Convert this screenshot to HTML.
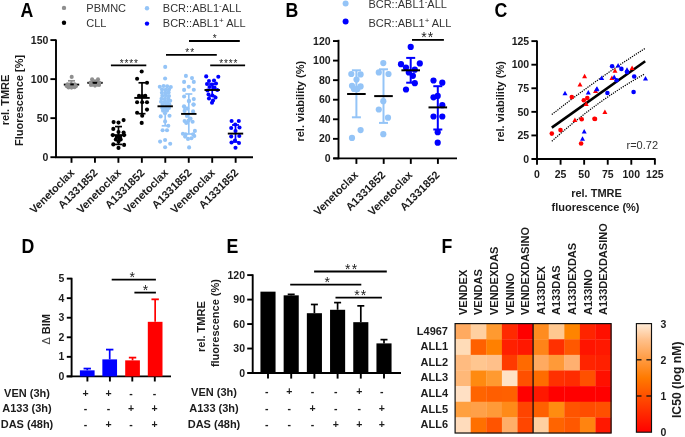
<!DOCTYPE html>
<html><head><meta charset="utf-8"><style>
html,body{margin:0;padding:0;background:#fff;}
svg{display:block;font-family:"Liberation Sans", sans-serif;will-change:transform;}
</style></head><body>
<svg width="685" height="437" viewBox="0 0 685 437">
<rect width="685" height="437" fill="#fff"/>
<text transform="translate(20.5 16.8) scale(0.91 1.02)" font-size="19.5" font-weight="bold">A</text>
<text transform="translate(285.5 16.8) scale(0.91 1.02)" font-size="19.5" font-weight="bold">B</text>
<text transform="translate(494.4 16.7) scale(0.91 1.02)" font-size="19.5" font-weight="bold">C</text>
<text transform="translate(21.6 253.0) scale(0.91 1.02)" font-size="19.5" font-weight="bold">D</text>
<text transform="translate(226.6 253.0) scale(0.91 1.02)" font-size="19.5" font-weight="bold">E</text>
<text transform="translate(441.5 252.5) scale(0.91 1.02)" font-size="19.5" font-weight="bold">F</text>
<line x1="56.00" y1="39.40" x2="56.00" y2="158.05" stroke="#000" stroke-width="1.9"/>
<line x1="55.15" y1="157.20" x2="253.00" y2="157.20" stroke="#000" stroke-width="1.9"/>
<line x1="50.40" y1="157.20" x2="56.00" y2="157.20" stroke="#000" stroke-width="1.9"/>
<text x="48.40" y="160.70" font-size="10.5" font-weight="bold" text-anchor="end" fill="#1c1c1c">0</text>
<line x1="50.40" y1="118.16" x2="56.00" y2="118.16" stroke="#000" stroke-width="1.9"/>
<text x="48.40" y="121.66" font-size="10.5" font-weight="bold" text-anchor="end" fill="#1c1c1c">50</text>
<line x1="50.40" y1="79.13" x2="56.00" y2="79.13" stroke="#000" stroke-width="1.9"/>
<text x="48.40" y="82.63" font-size="10.5" font-weight="bold" text-anchor="end" fill="#1c1c1c">100</text>
<line x1="50.40" y1="40.09" x2="56.00" y2="40.09" stroke="#000" stroke-width="1.9"/>
<text x="48.40" y="43.59" font-size="10.5" font-weight="bold" text-anchor="end" fill="#1c1c1c">150</text>
<line x1="71.50" y1="157.20" x2="71.50" y2="162.80" stroke="#000" stroke-width="1.9"/>
<line x1="94.95" y1="157.20" x2="94.95" y2="162.80" stroke="#000" stroke-width="1.9"/>
<line x1="118.40" y1="157.20" x2="118.40" y2="162.80" stroke="#000" stroke-width="1.9"/>
<line x1="141.85" y1="157.20" x2="141.85" y2="162.80" stroke="#000" stroke-width="1.9"/>
<line x1="165.30" y1="157.20" x2="165.30" y2="162.80" stroke="#000" stroke-width="1.9"/>
<line x1="188.75" y1="157.20" x2="188.75" y2="162.80" stroke="#000" stroke-width="1.9"/>
<line x1="212.20" y1="157.20" x2="212.20" y2="162.80" stroke="#000" stroke-width="1.9"/>
<line x1="235.65" y1="157.20" x2="235.65" y2="162.80" stroke="#000" stroke-width="1.9"/>
<text x="75.00" y="173.50" font-size="11" font-weight="bold" text-anchor="end" fill="#1c1c1c" transform="rotate(-45 75.0 173.5)">Venetoclax</text>
<text x="98.45" y="173.50" font-size="11" font-weight="bold" text-anchor="end" fill="#1c1c1c" transform="rotate(-45 98.45 173.5)">A1331852</text>
<text x="121.90" y="173.50" font-size="11" font-weight="bold" text-anchor="end" fill="#1c1c1c" transform="rotate(-45 121.9 173.5)">Venetoclax</text>
<text x="145.35" y="173.50" font-size="11" font-weight="bold" text-anchor="end" fill="#1c1c1c" transform="rotate(-45 145.35 173.5)">A1331852</text>
<text x="168.80" y="173.50" font-size="11" font-weight="bold" text-anchor="end" fill="#1c1c1c" transform="rotate(-45 168.8 173.5)">Venetoclax</text>
<text x="192.25" y="173.50" font-size="11" font-weight="bold" text-anchor="end" fill="#1c1c1c" transform="rotate(-45 192.25 173.5)">A1331852</text>
<text x="215.70" y="173.50" font-size="11" font-weight="bold" text-anchor="end" fill="#1c1c1c" transform="rotate(-45 215.7 173.5)">Venetoclax</text>
<text x="239.15" y="173.50" font-size="11" font-weight="bold" text-anchor="end" fill="#1c1c1c" transform="rotate(-45 239.15 173.5)">A1331852</text>
<text x="9.00" y="100.00" font-size="11" font-weight="bold" text-anchor="middle" fill="#1c1c1c" transform="rotate(-90 9 100)">rel. TMRE</text>
<text x="23.50" y="100.40" font-size="11" font-weight="bold" text-anchor="middle" fill="#1c1c1c" transform="rotate(-90 23.5 100.4)">Fluorescence [%]</text>
<circle cx="64.00" cy="7.90" r="2.2" fill="#8f8f8f"/>
<circle cx="64.00" cy="22.80" r="2.2" fill="#000"/>
<circle cx="147.00" cy="8.20" r="2.2" fill="#94c4f7"/>
<circle cx="147.00" cy="23.60" r="2.2" fill="#0000ff"/>
<text x="86.30" y="11.70" font-size="11" font-weight="normal" text-anchor="start" fill="#333">PBMNC</text>
<text x="86.30" y="27.00" font-size="11" font-weight="normal" text-anchor="start" fill="#333">CLL</text>
<text x="162.80" y="11.60" font-size="11" font-weight="normal" text-anchor="start" fill="#333">BCR::ABL1<tspan font-size="8" dy="-4">-</tspan><tspan dy="4">ALL</tspan></text>
<text x="162.80" y="26.90" font-size="11" font-weight="normal" text-anchor="start" fill="#333">BCR::ABL1<tspan font-size="8" dy="-4">+</tspan><tspan dy="4"> ALL</tspan></text>
<line x1="71.50" y1="80.80" x2="71.50" y2="84.00" stroke="#8f8f8f" stroke-width="1.7"/>
<line x1="68.00" y1="80.80" x2="75.00" y2="80.80" stroke="#8f8f8f" stroke-width="1.7"/>
<line x1="68.00" y1="84.00" x2="75.00" y2="84.00" stroke="#8f8f8f" stroke-width="1.7"/>
<line x1="63.80" y1="84.60" x2="79.20" y2="84.60" stroke="#000" stroke-width="1.9"/>
<circle cx="71.70" cy="76.90" r="2.05" fill="#8f8f8f"/>
<circle cx="67.60" cy="84.20" r="2.05" fill="#8f8f8f"/>
<circle cx="71.00" cy="84.00" r="2.05" fill="#8f8f8f"/>
<circle cx="74.60" cy="84.30" r="2.05" fill="#8f8f8f"/>
<circle cx="66.90" cy="86.30" r="2.05" fill="#8f8f8f"/>
<circle cx="69.90" cy="86.60" r="2.05" fill="#8f8f8f"/>
<circle cx="72.90" cy="86.50" r="2.05" fill="#8f8f8f"/>
<circle cx="75.90" cy="86.20" r="2.05" fill="#8f8f8f"/>
<circle cx="68.60" cy="87.40" r="2.05" fill="#8f8f8f"/>
<circle cx="71.50" cy="87.60" r="2.05" fill="#8f8f8f"/>
<circle cx="74.50" cy="87.30" r="2.05" fill="#8f8f8f"/>
<line x1="70.30" y1="84.40" x2="73.80" y2="84.40" stroke="#000" stroke-width="1.9"/>
<line x1="95.00" y1="81.60" x2="95.00" y2="84.20" stroke="#8f8f8f" stroke-width="1.7"/>
<line x1="91.50" y1="81.60" x2="98.50" y2="81.60" stroke="#8f8f8f" stroke-width="1.7"/>
<line x1="91.50" y1="84.20" x2="98.50" y2="84.20" stroke="#8f8f8f" stroke-width="1.7"/>
<line x1="87.30" y1="82.80" x2="102.70" y2="82.80" stroke="#000" stroke-width="1.9"/>
<circle cx="92.10" cy="79.30" r="2.05" fill="#8f8f8f"/>
<circle cx="98.00" cy="79.30" r="2.05" fill="#8f8f8f"/>
<circle cx="95.00" cy="81.20" r="2.05" fill="#8f8f8f"/>
<circle cx="90.60" cy="82.60" r="2.05" fill="#8f8f8f"/>
<circle cx="99.40" cy="82.60" r="2.05" fill="#8f8f8f"/>
<circle cx="92.60" cy="84.60" r="2.05" fill="#8f8f8f"/>
<circle cx="97.40" cy="84.60" r="2.05" fill="#8f8f8f"/>
<circle cx="95.00" cy="85.60" r="2.05" fill="#8f8f8f"/>
<circle cx="90.90" cy="84.90" r="2.05" fill="#8f8f8f"/>
<circle cx="99.10" cy="84.90" r="2.05" fill="#8f8f8f"/>
<line x1="92.70" y1="82.80" x2="97.00" y2="82.80" stroke="#000" stroke-width="1.9"/>
<circle cx="113.60" cy="122.10" r="2.05" fill="#000"/>
<circle cx="118.50" cy="122.60" r="2.05" fill="#000"/>
<circle cx="123.60" cy="120.10" r="2.05" fill="#000"/>
<circle cx="113.30" cy="128.90" r="2.05" fill="#000"/>
<circle cx="123.60" cy="132.60" r="2.05" fill="#000"/>
<circle cx="124.10" cy="135.10" r="2.05" fill="#000"/>
<circle cx="112.80" cy="135.10" r="2.05" fill="#000"/>
<circle cx="116.70" cy="137.10" r="2.05" fill="#000"/>
<circle cx="120.20" cy="137.10" r="2.05" fill="#000"/>
<circle cx="115.80" cy="139.50" r="2.05" fill="#000"/>
<circle cx="120.70" cy="139.50" r="2.05" fill="#000"/>
<circle cx="113.30" cy="144.40" r="2.05" fill="#000"/>
<circle cx="124.10" cy="144.90" r="2.05" fill="#000"/>
<circle cx="118.50" cy="147.90" r="2.05" fill="#000"/>
<circle cx="118.50" cy="141.50" r="2.05" fill="#000"/>
<circle cx="118.50" cy="132.00" r="2.05" fill="#000"/>
<line x1="118.50" y1="126.60" x2="118.50" y2="144.40" stroke="#000" stroke-width="1.7"/>
<line x1="115.00" y1="126.60" x2="122.00" y2="126.60" stroke="#000" stroke-width="1.7"/>
<line x1="115.00" y1="144.40" x2="122.00" y2="144.40" stroke="#000" stroke-width="1.7"/>
<line x1="110.80" y1="135.10" x2="126.20" y2="135.10" stroke="#000" stroke-width="1.9"/>
<circle cx="141.70" cy="71.50" r="2.05" fill="#000"/>
<circle cx="137.10" cy="78.70" r="2.05" fill="#000"/>
<circle cx="147.00" cy="82.80" r="2.05" fill="#000"/>
<circle cx="139.00" cy="95.90" r="2.05" fill="#000"/>
<circle cx="145.30" cy="95.90" r="2.05" fill="#000"/>
<circle cx="137.10" cy="102.30" r="2.05" fill="#000"/>
<circle cx="142.20" cy="102.30" r="2.05" fill="#000"/>
<circle cx="147.00" cy="102.30" r="2.05" fill="#000"/>
<circle cx="147.00" cy="109.60" r="2.05" fill="#000"/>
<circle cx="137.10" cy="112.80" r="2.05" fill="#000"/>
<circle cx="142.20" cy="115.80" r="2.05" fill="#000"/>
<circle cx="141.70" cy="122.90" r="2.05" fill="#000"/>
<circle cx="142.20" cy="96.00" r="2.05" fill="#000"/>
<line x1="142.00" y1="82.80" x2="142.00" y2="113.70" stroke="#000" stroke-width="1.7"/>
<line x1="138.50" y1="82.80" x2="145.50" y2="82.80" stroke="#000" stroke-width="1.7"/>
<line x1="138.50" y1="113.70" x2="145.50" y2="113.70" stroke="#000" stroke-width="1.7"/>
<line x1="134.30" y1="97.90" x2="149.70" y2="97.90" stroke="#000" stroke-width="1.9"/>
<line x1="165.20" y1="89.50" x2="165.20" y2="125.80" stroke="#94c4f7" stroke-width="1.7"/>
<line x1="161.70" y1="89.50" x2="168.70" y2="89.50" stroke="#94c4f7" stroke-width="1.7"/>
<line x1="161.70" y1="125.80" x2="168.70" y2="125.80" stroke="#94c4f7" stroke-width="1.7"/>
<circle cx="165.20" cy="66.90" r="2.05" fill="#94c4f7"/>
<circle cx="165.10" cy="78.50" r="2.05" fill="#94c4f7"/>
<circle cx="159.80" cy="86.80" r="2.05" fill="#94c4f7"/>
<circle cx="163.60" cy="86.00" r="2.05" fill="#94c4f7"/>
<circle cx="167.20" cy="86.30" r="2.05" fill="#94c4f7"/>
<circle cx="170.80" cy="87.00" r="2.05" fill="#94c4f7"/>
<circle cx="162.00" cy="89.60" r="2.05" fill="#94c4f7"/>
<circle cx="165.80" cy="89.90" r="2.05" fill="#94c4f7"/>
<circle cx="169.00" cy="89.60" r="2.05" fill="#94c4f7"/>
<circle cx="161.90" cy="92.70" r="2.05" fill="#94c4f7"/>
<circle cx="165.30" cy="93.00" r="2.05" fill="#94c4f7"/>
<circle cx="168.60" cy="92.60" r="2.05" fill="#94c4f7"/>
<circle cx="162.30" cy="95.80" r="2.05" fill="#94c4f7"/>
<circle cx="166.00" cy="95.60" r="2.05" fill="#94c4f7"/>
<circle cx="169.00" cy="96.00" r="2.05" fill="#94c4f7"/>
<circle cx="161.50" cy="98.80" r="2.05" fill="#94c4f7"/>
<circle cx="164.80" cy="99.00" r="2.05" fill="#94c4f7"/>
<circle cx="168.20" cy="98.60" r="2.05" fill="#94c4f7"/>
<circle cx="161.00" cy="101.80" r="2.05" fill="#94c4f7"/>
<circle cx="164.30" cy="102.00" r="2.05" fill="#94c4f7"/>
<circle cx="167.80" cy="101.60" r="2.05" fill="#94c4f7"/>
<circle cx="170.20" cy="100.80" r="2.05" fill="#94c4f7"/>
<circle cx="162.50" cy="104.60" r="2.05" fill="#94c4f7"/>
<circle cx="166.50" cy="104.40" r="2.05" fill="#94c4f7"/>
<circle cx="169.30" cy="104.30" r="2.05" fill="#94c4f7"/>
<circle cx="162.30" cy="108.00" r="2.05" fill="#94c4f7"/>
<circle cx="165.80" cy="108.30" r="2.05" fill="#94c4f7"/>
<circle cx="169.00" cy="108.00" r="2.05" fill="#94c4f7"/>
<circle cx="163.00" cy="110.80" r="2.05" fill="#94c4f7"/>
<circle cx="167.00" cy="110.60" r="2.05" fill="#94c4f7"/>
<circle cx="165.00" cy="113.30" r="2.05" fill="#94c4f7"/>
<circle cx="160.70" cy="116.40" r="2.05" fill="#94c4f7"/>
<circle cx="169.50" cy="115.70" r="2.05" fill="#94c4f7"/>
<circle cx="165.10" cy="121.40" r="2.05" fill="#94c4f7"/>
<circle cx="168.30" cy="125.80" r="2.05" fill="#94c4f7"/>
<circle cx="162.60" cy="130.20" r="2.05" fill="#94c4f7"/>
<circle cx="167.00" cy="130.20" r="2.05" fill="#94c4f7"/>
<circle cx="160.10" cy="141.60" r="2.05" fill="#94c4f7"/>
<circle cx="165.10" cy="140.00" r="2.05" fill="#94c4f7"/>
<circle cx="170.20" cy="143.80" r="2.05" fill="#94c4f7"/>
<circle cx="165.10" cy="147.20" r="2.05" fill="#94c4f7"/>
<line x1="157.50" y1="106.30" x2="172.90" y2="106.30" stroke="#000" stroke-width="1.9"/>
<line x1="188.80" y1="94.00" x2="188.80" y2="134.00" stroke="#94c4f7" stroke-width="1.7"/>
<line x1="185.30" y1="94.00" x2="192.30" y2="94.00" stroke="#94c4f7" stroke-width="1.7"/>
<line x1="185.30" y1="134.00" x2="192.30" y2="134.00" stroke="#94c4f7" stroke-width="1.7"/>
<circle cx="185.90" cy="75.90" r="2.05" fill="#94c4f7"/>
<circle cx="192.00" cy="78.10" r="2.05" fill="#94c4f7"/>
<circle cx="184.10" cy="81.90" r="2.05" fill="#94c4f7"/>
<circle cx="193.80" cy="81.90" r="2.05" fill="#94c4f7"/>
<circle cx="188.80" cy="86.70" r="2.05" fill="#94c4f7"/>
<circle cx="184.10" cy="89.90" r="2.05" fill="#94c4f7"/>
<circle cx="193.80" cy="89.70" r="2.05" fill="#94c4f7"/>
<circle cx="184.10" cy="96.50" r="2.05" fill="#94c4f7"/>
<circle cx="193.80" cy="99.10" r="2.05" fill="#94c4f7"/>
<circle cx="188.80" cy="101.10" r="2.05" fill="#94c4f7"/>
<circle cx="184.40" cy="107.10" r="2.05" fill="#94c4f7"/>
<circle cx="193.40" cy="104.60" r="2.05" fill="#94c4f7"/>
<circle cx="189.10" cy="101.10" r="2.05" fill="#94c4f7"/>
<circle cx="193.70" cy="104.60" r="2.05" fill="#94c4f7"/>
<circle cx="184.00" cy="106.30" r="2.05" fill="#94c4f7"/>
<circle cx="187.40" cy="108.60" r="2.05" fill="#94c4f7"/>
<circle cx="193.10" cy="111.40" r="2.05" fill="#94c4f7"/>
<circle cx="184.60" cy="110.90" r="2.05" fill="#94c4f7"/>
<circle cx="186.90" cy="116.00" r="2.05" fill="#94c4f7"/>
<circle cx="184.60" cy="121.10" r="2.05" fill="#94c4f7"/>
<circle cx="188.60" cy="120.60" r="2.05" fill="#94c4f7"/>
<circle cx="192.60" cy="121.70" r="2.05" fill="#94c4f7"/>
<circle cx="186.30" cy="122.90" r="2.05" fill="#94c4f7"/>
<circle cx="190.50" cy="118.50" r="2.05" fill="#94c4f7"/>
<circle cx="194.90" cy="130.90" r="2.05" fill="#94c4f7"/>
<circle cx="182.90" cy="133.70" r="2.05" fill="#94c4f7"/>
<circle cx="185.10" cy="136.60" r="2.05" fill="#94c4f7"/>
<circle cx="188.00" cy="138.90" r="2.05" fill="#94c4f7"/>
<circle cx="191.40" cy="138.30" r="2.05" fill="#94c4f7"/>
<circle cx="194.30" cy="136.00" r="2.05" fill="#94c4f7"/>
<circle cx="185.70" cy="134.30" r="2.05" fill="#94c4f7"/>
<circle cx="193.10" cy="134.30" r="2.05" fill="#94c4f7"/>
<circle cx="189.10" cy="147.40" r="2.05" fill="#94c4f7"/>
<line x1="181.10" y1="113.90" x2="196.50" y2="113.90" stroke="#000" stroke-width="1.9"/>
<circle cx="206.20" cy="76.40" r="2.05" fill="#0000ff"/>
<circle cx="218.30" cy="76.80" r="2.05" fill="#0000ff"/>
<circle cx="209.00" cy="81.00" r="2.05" fill="#0000ff"/>
<circle cx="214.00" cy="80.50" r="2.05" fill="#0000ff"/>
<circle cx="207.00" cy="84.00" r="2.05" fill="#0000ff"/>
<circle cx="212.00" cy="84.50" r="2.05" fill="#0000ff"/>
<circle cx="216.00" cy="83.50" r="2.05" fill="#0000ff"/>
<circle cx="209.50" cy="87.00" r="2.05" fill="#0000ff"/>
<circle cx="214.50" cy="87.50" r="2.05" fill="#0000ff"/>
<circle cx="207.50" cy="90.50" r="2.05" fill="#0000ff"/>
<circle cx="217.30" cy="90.00" r="2.05" fill="#0000ff"/>
<circle cx="208.50" cy="94.50" r="2.05" fill="#0000ff"/>
<circle cx="212.50" cy="95.50" r="2.05" fill="#0000ff"/>
<circle cx="215.50" cy="97.50" r="2.05" fill="#0000ff"/>
<circle cx="209.00" cy="98.50" r="2.05" fill="#0000ff"/>
<circle cx="213.00" cy="100.50" r="2.05" fill="#0000ff"/>
<circle cx="212.00" cy="102.70" r="2.05" fill="#0000ff"/>
<line x1="212.20" y1="84.00" x2="212.20" y2="96.00" stroke="#0000ff" stroke-width="1.7"/>
<line x1="208.70" y1="84.00" x2="215.70" y2="84.00" stroke="#0000ff" stroke-width="1.7"/>
<line x1="208.70" y1="96.00" x2="215.70" y2="96.00" stroke="#0000ff" stroke-width="1.7"/>
<line x1="204.50" y1="90.00" x2="219.90" y2="90.00" stroke="#000" stroke-width="1.9"/>
<circle cx="231.60" cy="121.00" r="2.05" fill="#0000ff"/>
<circle cx="238.80" cy="121.00" r="2.05" fill="#0000ff"/>
<circle cx="235.20" cy="124.50" r="2.05" fill="#0000ff"/>
<circle cx="231.20" cy="128.00" r="2.05" fill="#0000ff"/>
<circle cx="239.50" cy="127.50" r="2.05" fill="#0000ff"/>
<circle cx="235.50" cy="131.00" r="2.05" fill="#0000ff"/>
<circle cx="231.20" cy="136.50" r="2.05" fill="#0000ff"/>
<circle cx="239.30" cy="136.00" r="2.05" fill="#0000ff"/>
<circle cx="235.00" cy="140.50" r="2.05" fill="#0000ff"/>
<circle cx="231.50" cy="142.50" r="2.05" fill="#0000ff"/>
<circle cx="239.00" cy="143.00" r="2.05" fill="#0000ff"/>
<circle cx="235.50" cy="147.80" r="2.05" fill="#0000ff"/>
<line x1="235.50" y1="125.00" x2="235.50" y2="142.00" stroke="#0000ff" stroke-width="1.7"/>
<line x1="232.00" y1="125.00" x2="239.00" y2="125.00" stroke="#0000ff" stroke-width="1.7"/>
<line x1="232.00" y1="142.00" x2="239.00" y2="142.00" stroke="#0000ff" stroke-width="1.7"/>
<line x1="227.80" y1="133.60" x2="243.20" y2="133.60" stroke="#000" stroke-width="1.9"/>
<line x1="189.00" y1="41.00" x2="239.80" y2="41.00" stroke="#000" stroke-width="1.8"/>
<text x="215.15" y="42.40" font-size="10" font-weight="normal" text-anchor="middle" fill="#1a1a1a" letter-spacing="0.9">*</text>
<line x1="166.00" y1="54.80" x2="216.80" y2="54.80" stroke="#000" stroke-width="1.8"/>
<text x="190.15" y="56.20" font-size="10" font-weight="normal" text-anchor="middle" fill="#1a1a1a" letter-spacing="0.9">**</text>
<line x1="110.90" y1="65.40" x2="146.30" y2="65.40" stroke="#000" stroke-width="1.8"/>
<text x="129.35" y="66.80" font-size="10" font-weight="normal" text-anchor="middle" fill="#1a1a1a" letter-spacing="0.9">****</text>
<line x1="210.20" y1="65.40" x2="245.10" y2="65.40" stroke="#000" stroke-width="1.8"/>
<text x="228.85" y="66.80" font-size="10" font-weight="normal" text-anchor="middle" fill="#1a1a1a" letter-spacing="0.9">****</text>
<line x1="338.50" y1="39.80" x2="338.50" y2="159.25" stroke="#000" stroke-width="1.9"/>
<line x1="333.50" y1="158.40" x2="457.00" y2="158.40" stroke="#000" stroke-width="1.9"/>
<line x1="333.00" y1="158.40" x2="338.50" y2="158.40" stroke="#000" stroke-width="1.9"/>
<text x="330.60" y="161.90" font-size="10.5" font-weight="bold" text-anchor="end" fill="#1c1c1c">0</text>
<line x1="333.00" y1="138.84" x2="338.50" y2="138.84" stroke="#000" stroke-width="1.9"/>
<text x="330.60" y="142.34" font-size="10.5" font-weight="bold" text-anchor="end" fill="#1c1c1c">20</text>
<line x1="333.00" y1="119.28" x2="338.50" y2="119.28" stroke="#000" stroke-width="1.9"/>
<text x="330.60" y="122.78" font-size="10.5" font-weight="bold" text-anchor="end" fill="#1c1c1c">40</text>
<line x1="333.00" y1="99.72" x2="338.50" y2="99.72" stroke="#000" stroke-width="1.9"/>
<text x="330.60" y="103.22" font-size="10.5" font-weight="bold" text-anchor="end" fill="#1c1c1c">60</text>
<line x1="333.00" y1="80.16" x2="338.50" y2="80.16" stroke="#000" stroke-width="1.9"/>
<text x="330.60" y="83.66" font-size="10.5" font-weight="bold" text-anchor="end" fill="#1c1c1c">80</text>
<line x1="333.00" y1="60.60" x2="338.50" y2="60.60" stroke="#000" stroke-width="1.9"/>
<text x="330.60" y="64.10" font-size="10.5" font-weight="bold" text-anchor="end" fill="#1c1c1c">100</text>
<line x1="333.00" y1="41.04" x2="338.50" y2="41.04" stroke="#000" stroke-width="1.9"/>
<text x="330.60" y="44.54" font-size="10.5" font-weight="bold" text-anchor="end" fill="#1c1c1c">120</text>
<line x1="356.40" y1="158.40" x2="356.40" y2="163.90" stroke="#000" stroke-width="1.9"/>
<line x1="383.70" y1="158.40" x2="383.70" y2="163.90" stroke="#000" stroke-width="1.9"/>
<line x1="410.80" y1="158.40" x2="410.80" y2="163.90" stroke="#000" stroke-width="1.9"/>
<line x1="437.90" y1="158.40" x2="437.90" y2="163.90" stroke="#000" stroke-width="1.9"/>
<text x="358.80" y="175.60" font-size="11" font-weight="bold" text-anchor="end" fill="#1c1c1c" transform="rotate(-45 358.79999999999995 175.6)">Venetoclax</text>
<text x="386.10" y="175.60" font-size="11" font-weight="bold" text-anchor="end" fill="#1c1c1c" transform="rotate(-45 386.09999999999997 175.6)">A1331852</text>
<text x="413.20" y="175.60" font-size="11" font-weight="bold" text-anchor="end" fill="#1c1c1c" transform="rotate(-45 413.2 175.6)">Venetoclax</text>
<text x="440.30" y="175.60" font-size="11" font-weight="bold" text-anchor="end" fill="#1c1c1c" transform="rotate(-45 440.29999999999995 175.6)">A1331852</text>
<text x="304.00" y="101.20" font-size="11" font-weight="bold" text-anchor="middle" fill="#1c1c1c" transform="rotate(-90 304 101.2)">rel. viability (%)</text>
<circle cx="345.60" cy="3.40" r="3.0" fill="#94c4f7"/>
<circle cx="345.60" cy="21.40" r="3.0" fill="#0000ff"/>
<text x="368.40" y="8.20" font-size="11" font-weight="normal" text-anchor="start" fill="#333">BCR::ABL1<tspan font-size="8" dy="-4">-</tspan><tspan dy="4">ALL</tspan></text>
<text x="368.40" y="26.50" font-size="11" font-weight="normal" text-anchor="start" fill="#333">BCR::ABL1<tspan font-size="8" dy="-4">+</tspan><tspan dy="4"> ALL</tspan></text>
<circle cx="351.30" cy="74.00" r="3.1" fill="#94c4f7"/>
<circle cx="360.60" cy="74.40" r="3.1" fill="#94c4f7"/>
<circle cx="356.50" cy="79.60" r="3.1" fill="#94c4f7"/>
<circle cx="352.00" cy="85.80" r="3.1" fill="#94c4f7"/>
<circle cx="360.60" cy="86.40" r="3.1" fill="#94c4f7"/>
<circle cx="357.50" cy="88.90" r="3.1" fill="#94c4f7"/>
<circle cx="354.00" cy="89.00" r="3.1" fill="#94c4f7"/>
<circle cx="360.60" cy="130.10" r="3.1" fill="#94c4f7"/>
<circle cx="352.00" cy="137.90" r="3.1" fill="#94c4f7"/>
<line x1="356.40" y1="70.30" x2="356.40" y2="117.30" stroke="#94c4f7" stroke-width="2.0"/>
<line x1="351.90" y1="70.30" x2="360.90" y2="70.30" stroke="#94c4f7" stroke-width="2.0"/>
<line x1="351.90" y1="117.30" x2="360.90" y2="117.30" stroke="#94c4f7" stroke-width="2.0"/>
<line x1="347.10" y1="94.00" x2="365.70" y2="94.00" stroke="#000" stroke-width="2.0"/>
<circle cx="383.30" cy="63.10" r="3.1" fill="#94c4f7"/>
<circle cx="378.80" cy="72.40" r="3.1" fill="#94c4f7"/>
<circle cx="388.50" cy="74.00" r="3.1" fill="#94c4f7"/>
<circle cx="383.30" cy="101.20" r="3.1" fill="#94c4f7"/>
<circle cx="378.80" cy="109.50" r="3.1" fill="#94c4f7"/>
<circle cx="388.00" cy="117.70" r="3.1" fill="#94c4f7"/>
<circle cx="383.30" cy="134.20" r="3.1" fill="#94c4f7"/>
<line x1="383.50" y1="69.30" x2="383.50" y2="122.90" stroke="#94c4f7" stroke-width="2.0"/>
<line x1="379.00" y1="69.30" x2="388.00" y2="69.30" stroke="#94c4f7" stroke-width="2.0"/>
<line x1="379.00" y1="122.90" x2="388.00" y2="122.90" stroke="#94c4f7" stroke-width="2.0"/>
<line x1="374.20" y1="96.10" x2="392.80" y2="96.10" stroke="#000" stroke-width="2.0"/>
<circle cx="410.70" cy="46.90" r="3.1" fill="#0000ff"/>
<circle cx="401.00" cy="64.20" r="3.1" fill="#0000ff"/>
<circle cx="419.80" cy="63.40" r="3.1" fill="#0000ff"/>
<circle cx="406.00" cy="67.50" r="3.1" fill="#0000ff"/>
<circle cx="414.80" cy="69.70" r="3.1" fill="#0000ff"/>
<circle cx="408.80" cy="72.50" r="3.1" fill="#0000ff"/>
<circle cx="412.90" cy="75.80" r="3.1" fill="#0000ff"/>
<circle cx="414.80" cy="83.20" r="3.1" fill="#0000ff"/>
<circle cx="406.00" cy="89.50" r="3.1" fill="#0000ff"/>
<line x1="410.70" y1="57.90" x2="410.70" y2="82.70" stroke="#0000ff" stroke-width="2.0"/>
<line x1="406.20" y1="57.90" x2="415.20" y2="57.90" stroke="#0000ff" stroke-width="2.0"/>
<line x1="406.20" y1="82.70" x2="415.20" y2="82.70" stroke="#0000ff" stroke-width="2.0"/>
<line x1="401.40" y1="70.30" x2="420.00" y2="70.30" stroke="#000" stroke-width="2.0"/>
<circle cx="433.50" cy="80.50" r="3.1" fill="#0000ff"/>
<circle cx="442.30" cy="82.70" r="3.1" fill="#0000ff"/>
<circle cx="433.50" cy="97.30" r="3.1" fill="#0000ff"/>
<circle cx="437.70" cy="95.90" r="3.1" fill="#0000ff"/>
<circle cx="442.30" cy="105.20" r="3.1" fill="#0000ff"/>
<circle cx="433.50" cy="116.50" r="3.1" fill="#0000ff"/>
<circle cx="442.30" cy="116.50" r="3.1" fill="#0000ff"/>
<circle cx="437.70" cy="132.20" r="3.1" fill="#0000ff"/>
<circle cx="437.70" cy="142.70" r="3.1" fill="#0000ff"/>
<line x1="437.80" y1="86.20" x2="437.80" y2="129.50" stroke="#0000ff" stroke-width="2.0"/>
<line x1="433.30" y1="86.20" x2="442.30" y2="86.20" stroke="#0000ff" stroke-width="2.0"/>
<line x1="433.30" y1="129.50" x2="442.30" y2="129.50" stroke="#0000ff" stroke-width="2.0"/>
<line x1="428.50" y1="107.40" x2="447.10" y2="107.40" stroke="#000" stroke-width="2.0"/>
<line x1="412.00" y1="39.90" x2="443.90" y2="39.90" stroke="#000" stroke-width="1.8"/>
<text x="427.80" y="41.90" font-size="14" font-weight="normal" text-anchor="middle" fill="#1a1a1a" letter-spacing="1.2">**</text>
<line x1="537.00" y1="40.50" x2="537.00" y2="159.85" stroke="#000" stroke-width="1.9"/>
<line x1="532.00" y1="159.00" x2="655.60" y2="159.00" stroke="#000" stroke-width="1.9"/>
<line x1="531.40" y1="159.00" x2="537.00" y2="159.00" stroke="#000" stroke-width="1.9"/>
<text x="529.20" y="162.70" font-size="10.5" font-weight="bold" text-anchor="end" fill="#1c1c1c">0</text>
<line x1="537.00" y1="159.00" x2="537.00" y2="164.70" stroke="#000" stroke-width="1.9"/>
<text x="537.00" y="178.20" font-size="10.5" font-weight="bold" text-anchor="middle" fill="#1c1c1c">0</text>
<line x1="531.40" y1="135.43" x2="537.00" y2="135.43" stroke="#000" stroke-width="1.9"/>
<text x="529.20" y="139.12" font-size="10.5" font-weight="bold" text-anchor="end" fill="#1c1c1c">25</text>
<line x1="560.58" y1="159.00" x2="560.58" y2="164.70" stroke="#000" stroke-width="1.9"/>
<text x="560.58" y="178.20" font-size="10.5" font-weight="bold" text-anchor="middle" fill="#1c1c1c">25</text>
<line x1="531.40" y1="111.85" x2="537.00" y2="111.85" stroke="#000" stroke-width="1.9"/>
<text x="529.20" y="115.55" font-size="10.5" font-weight="bold" text-anchor="end" fill="#1c1c1c">50</text>
<line x1="584.15" y1="159.00" x2="584.15" y2="164.70" stroke="#000" stroke-width="1.9"/>
<text x="584.15" y="178.20" font-size="10.5" font-weight="bold" text-anchor="middle" fill="#1c1c1c">50</text>
<line x1="531.40" y1="88.28" x2="537.00" y2="88.28" stroke="#000" stroke-width="1.9"/>
<text x="529.20" y="91.98" font-size="10.5" font-weight="bold" text-anchor="end" fill="#1c1c1c">75</text>
<line x1="607.73" y1="159.00" x2="607.73" y2="164.70" stroke="#000" stroke-width="1.9"/>
<text x="607.73" y="178.20" font-size="10.5" font-weight="bold" text-anchor="middle" fill="#1c1c1c">75</text>
<line x1="531.40" y1="64.70" x2="537.00" y2="64.70" stroke="#000" stroke-width="1.9"/>
<text x="529.20" y="68.40" font-size="10.5" font-weight="bold" text-anchor="end" fill="#1c1c1c">100</text>
<line x1="631.30" y1="159.00" x2="631.30" y2="164.70" stroke="#000" stroke-width="1.9"/>
<text x="631.30" y="178.20" font-size="10.5" font-weight="bold" text-anchor="middle" fill="#1c1c1c">100</text>
<line x1="531.40" y1="41.12" x2="537.00" y2="41.12" stroke="#000" stroke-width="1.9"/>
<text x="529.20" y="44.83" font-size="10.5" font-weight="bold" text-anchor="end" fill="#1c1c1c">125</text>
<line x1="654.88" y1="159.00" x2="654.88" y2="164.70" stroke="#000" stroke-width="1.9"/>
<text x="654.88" y="178.20" font-size="10.5" font-weight="bold" text-anchor="middle" fill="#1c1c1c">125</text>
<text x="503.80" y="101.50" font-size="11" font-weight="bold" text-anchor="middle" fill="#1c1c1c" transform="rotate(-90 503.8 101.5)">rel. viability (%)</text>
<text x="596.50" y="196.80" font-size="11" font-weight="bold" text-anchor="middle" fill="#1c1c1c">rel. TMRE</text>
<text x="595.50" y="210.80" font-size="11" font-weight="bold" text-anchor="middle" fill="#1c1c1c">fluorescence (%)</text>
<text x="626.50" y="149.30" font-size="11" font-weight="normal" text-anchor="start" fill="#333">r=0.72</text>
<path d="M551.8 114.6 Q598 78 645.5 48.2" fill="none" stroke="#000" stroke-width="1.25" stroke-dasharray="1.25 1.1"/>
<path d="M551.8 141.2 Q598 100 644.1 74.3" fill="none" stroke="#000" stroke-width="1.25" stroke-dasharray="1.25 1.1"/>
<line x1="551.80" y1="127.60" x2="645.20" y2="61.20" stroke="#000" stroke-width="2.6"/>
<circle cx="551.80" cy="133.60" r="2.3" fill="#ff0000"/>
<circle cx="560.50" cy="130.10" r="2.3" fill="#ff0000"/>
<circle cx="571.80" cy="97.10" r="2.3" fill="#ff0000"/>
<circle cx="583.80" cy="100.20" r="2.3" fill="#ff0000"/>
<circle cx="587.30" cy="98.10" r="2.3" fill="#ff0000"/>
<circle cx="581.70" cy="119.20" r="2.3" fill="#ff0000"/>
<circle cx="594.50" cy="118.80" r="2.3" fill="#ff0000"/>
<circle cx="581.10" cy="143.50" r="2.3" fill="#ff0000"/>
<circle cx="595.00" cy="119.00" r="2.3" fill="#ff0000"/>
<circle cx="612.10" cy="66.20" r="2.3" fill="#0000ff"/>
<circle cx="621.40" cy="68.90" r="2.3" fill="#0000ff"/>
<circle cx="627.00" cy="72.00" r="2.3" fill="#0000ff"/>
<circle cx="616.60" cy="80.20" r="2.3" fill="#0000ff"/>
<circle cx="607.40" cy="93.00" r="2.3" fill="#0000ff"/>
<circle cx="634.20" cy="76.50" r="2.3" fill="#0000ff"/>
<circle cx="633.60" cy="92.00" r="2.3" fill="#0000ff"/>
<path d="M584.60 73.80L587.10 78.30L582.10 78.30Z" fill="#ff0000"/>
<path d="M580.00 82.00L582.50 86.50L577.50 86.50Z" fill="#ff0000"/>
<path d="M586.20 101.60L588.70 106.10L583.70 106.10Z" fill="#ff0000"/>
<path d="M574.90 117.50L577.40 122.00L572.40 122.00Z" fill="#ff0000"/>
<path d="M595.50 88.60L598.00 93.10L593.00 93.10Z" fill="#ff0000"/>
<path d="M604.90 109.50L607.40 114.00L602.40 114.00Z" fill="#ff0000"/>
<path d="M615.00 68.20L617.50 72.70L612.50 72.70Z" fill="#ff0000"/>
<path d="M632.10 65.50L634.60 70.00L629.60 70.00Z" fill="#ff0000"/>
<path d="M611.90 75.40L614.40 79.90L609.40 79.90Z" fill="#ff0000"/>
<path d="M565.00 90.70L567.50 95.20L562.50 95.20Z" fill="#0000ff"/>
<path d="M588.30 89.90L590.80 94.40L585.80 94.40Z" fill="#0000ff"/>
<path d="M601.70 75.40L604.20 79.90L599.20 79.90Z" fill="#0000ff"/>
<path d="M597.00 86.20L599.50 90.70L594.50 90.70Z" fill="#0000ff"/>
<path d="M584.20 129.10L586.70 133.60L581.70 133.60Z" fill="#0000ff"/>
<path d="M582.50 136.30L585.00 140.80L580.00 140.80Z" fill="#0000ff"/>
<path d="M618.10 63.10L620.60 67.60L615.60 67.60Z" fill="#0000ff"/>
<path d="M627.00 67.20L629.50 71.70L624.50 71.70Z" fill="#0000ff"/>
<path d="M614.20 74.40L616.70 78.90L611.70 78.90Z" fill="#0000ff"/>
<path d="M645.50 75.90L648.00 80.40L643.00 80.40Z" fill="#0000ff"/>
<path d="M596.60 86.80L599.10 91.30L594.10 91.30Z" fill="#0000ff"/>
<line x1="71.60" y1="277.80" x2="71.60" y2="377.25" stroke="#000" stroke-width="1.9"/>
<line x1="66.60" y1="376.40" x2="171.00" y2="376.40" stroke="#000" stroke-width="1.9"/>
<line x1="66.80" y1="376.40" x2="71.60" y2="376.40" stroke="#000" stroke-width="1.9"/>
<text x="64.40" y="379.90" font-size="10.5" font-weight="bold" text-anchor="end" fill="#1c1c1c">0</text>
<line x1="66.80" y1="356.84" x2="71.60" y2="356.84" stroke="#000" stroke-width="1.9"/>
<text x="64.40" y="360.34" font-size="10.5" font-weight="bold" text-anchor="end" fill="#1c1c1c">1</text>
<line x1="66.80" y1="337.28" x2="71.60" y2="337.28" stroke="#000" stroke-width="1.9"/>
<text x="64.40" y="340.78" font-size="10.5" font-weight="bold" text-anchor="end" fill="#1c1c1c">2</text>
<line x1="66.80" y1="317.72" x2="71.60" y2="317.72" stroke="#000" stroke-width="1.9"/>
<text x="64.40" y="321.22" font-size="10.5" font-weight="bold" text-anchor="end" fill="#1c1c1c">3</text>
<line x1="66.80" y1="298.16" x2="71.60" y2="298.16" stroke="#000" stroke-width="1.9"/>
<text x="64.40" y="301.66" font-size="10.5" font-weight="bold" text-anchor="end" fill="#1c1c1c">4</text>
<line x1="66.80" y1="278.60" x2="71.60" y2="278.60" stroke="#000" stroke-width="1.9"/>
<text x="64.40" y="282.10" font-size="10.5" font-weight="bold" text-anchor="end" fill="#1c1c1c">5</text>
<line x1="87.40" y1="376.40" x2="87.40" y2="381.50" stroke="#000" stroke-width="1.9"/>
<line x1="109.90" y1="376.40" x2="109.90" y2="381.50" stroke="#000" stroke-width="1.9"/>
<line x1="132.30" y1="376.40" x2="132.30" y2="381.50" stroke="#000" stroke-width="1.9"/>
<line x1="154.80" y1="376.40" x2="154.80" y2="381.50" stroke="#000" stroke-width="1.9"/>
<rect x="79.90" y="370.34" width="14.70" height="6.06" fill="#0000ff"/>
<line x1="87.25" y1="368.58" x2="87.25" y2="370.34" stroke="#0000ff" stroke-width="1.7"/>
<line x1="83.55" y1="368.58" x2="90.95" y2="368.58" stroke="#0000ff" stroke-width="1.8"/>
<rect x="102.35" y="359.38" width="14.70" height="17.02" fill="#0000ff"/>
<line x1="109.70" y1="349.60" x2="109.70" y2="359.38" stroke="#0000ff" stroke-width="1.7"/>
<line x1="106.00" y1="349.60" x2="113.40" y2="349.60" stroke="#0000ff" stroke-width="1.8"/>
<rect x="125.20" y="360.36" width="14.70" height="16.04" fill="#ff0000"/>
<line x1="132.55" y1="357.62" x2="132.55" y2="360.36" stroke="#ff0000" stroke-width="1.7"/>
<line x1="128.85" y1="357.62" x2="136.25" y2="357.62" stroke="#ff0000" stroke-width="1.8"/>
<rect x="147.80" y="321.83" width="14.70" height="54.57" fill="#ff0000"/>
<line x1="155.15" y1="299.33" x2="155.15" y2="321.83" stroke="#ff0000" stroke-width="1.7"/>
<line x1="151.45" y1="299.33" x2="158.85" y2="299.33" stroke="#ff0000" stroke-width="1.8"/>
<line x1="111.70" y1="279.70" x2="155.90" y2="279.70" stroke="#000" stroke-width="1.8"/>
<text x="132.90" y="281.70" font-size="14" font-weight="normal" text-anchor="middle" fill="#1a1a1a" letter-spacing="1.2">*</text>
<line x1="134.40" y1="292.60" x2="155.90" y2="292.60" stroke="#000" stroke-width="1.8"/>
<text x="146.00" y="294.60" font-size="14" font-weight="normal" text-anchor="middle" fill="#1a1a1a" letter-spacing="1.2">*</text>
<text x="50.50" y="329.30" font-size="11" font-weight="bold" text-anchor="middle" fill="#1c1c1c" transform="rotate(-90 50.5 329.3)"><tspan font-weight="normal" fill="#444">Δ</tspan> BIM</text>
<text x="27.00" y="397.10" font-size="11" font-weight="bold" text-anchor="middle" fill="#1c1c1c">VEN (3h)</text>
<text x="27.00" y="412.00" font-size="11" font-weight="bold" text-anchor="middle" fill="#1c1c1c">A133 (3h)</text>
<text x="27.00" y="428.00" font-size="11" font-weight="bold" text-anchor="middle" fill="#1c1c1c">DAS (48h)</text>
<text x="85.50" y="396.60" font-size="10.5" font-weight="bold" text-anchor="middle" fill="#1c1c1c">+</text>
<text x="108.60" y="396.60" font-size="10.5" font-weight="bold" text-anchor="middle" fill="#1c1c1c">+</text>
<text x="131.00" y="396.60" font-size="10.5" font-weight="bold" text-anchor="middle" fill="#1c1c1c">-</text>
<text x="154.50" y="396.60" font-size="10.5" font-weight="bold" text-anchor="middle" fill="#1c1c1c">-</text>
<text x="85.50" y="411.50" font-size="10.5" font-weight="bold" text-anchor="middle" fill="#1c1c1c">-</text>
<text x="108.60" y="411.50" font-size="10.5" font-weight="bold" text-anchor="middle" fill="#1c1c1c">-</text>
<text x="131.00" y="411.50" font-size="10.5" font-weight="bold" text-anchor="middle" fill="#1c1c1c">+</text>
<text x="154.50" y="411.50" font-size="10.5" font-weight="bold" text-anchor="middle" fill="#1c1c1c">+</text>
<text x="85.50" y="427.50" font-size="10.5" font-weight="bold" text-anchor="middle" fill="#1c1c1c">-</text>
<text x="108.60" y="427.50" font-size="10.5" font-weight="bold" text-anchor="middle" fill="#1c1c1c">+</text>
<text x="131.00" y="427.50" font-size="10.5" font-weight="bold" text-anchor="middle" fill="#1c1c1c">-</text>
<text x="154.50" y="427.50" font-size="10.5" font-weight="bold" text-anchor="middle" fill="#1c1c1c">+</text>
<line x1="252.70" y1="274.30" x2="252.70" y2="373.85" stroke="#000" stroke-width="1.9"/>
<line x1="247.70" y1="373.00" x2="401.00" y2="373.00" stroke="#000" stroke-width="1.9"/>
<line x1="247.20" y1="373.00" x2="252.70" y2="373.00" stroke="#000" stroke-width="1.9"/>
<text x="245.00" y="376.50" font-size="10.5" font-weight="bold" text-anchor="end" fill="#1c1c1c">0</text>
<line x1="247.20" y1="348.53" x2="252.70" y2="348.53" stroke="#000" stroke-width="1.9"/>
<text x="245.00" y="352.03" font-size="10.5" font-weight="bold" text-anchor="end" fill="#1c1c1c">30</text>
<line x1="247.20" y1="324.05" x2="252.70" y2="324.05" stroke="#000" stroke-width="1.9"/>
<text x="245.00" y="327.55" font-size="10.5" font-weight="bold" text-anchor="end" fill="#1c1c1c">60</text>
<line x1="247.20" y1="299.58" x2="252.70" y2="299.58" stroke="#000" stroke-width="1.9"/>
<text x="245.00" y="303.08" font-size="10.5" font-weight="bold" text-anchor="end" fill="#1c1c1c">90</text>
<line x1="247.20" y1="275.10" x2="252.70" y2="275.10" stroke="#000" stroke-width="1.9"/>
<text x="245.00" y="278.60" font-size="10.5" font-weight="bold" text-anchor="end" fill="#1c1c1c">120</text>
<line x1="268.00" y1="373.00" x2="268.00" y2="378.60" stroke="#000" stroke-width="1.9"/>
<line x1="291.20" y1="373.00" x2="291.20" y2="378.60" stroke="#000" stroke-width="1.9"/>
<line x1="314.40" y1="373.00" x2="314.40" y2="378.60" stroke="#000" stroke-width="1.9"/>
<line x1="337.60" y1="373.00" x2="337.60" y2="378.60" stroke="#000" stroke-width="1.9"/>
<line x1="360.80" y1="373.00" x2="360.80" y2="378.60" stroke="#000" stroke-width="1.9"/>
<line x1="384.00" y1="373.00" x2="384.00" y2="378.60" stroke="#000" stroke-width="1.9"/>
<rect x="260.45" y="291.66" width="15.10" height="81.34" fill="#000"/>
<rect x="283.65" y="295.34" width="15.10" height="77.66" fill="#000"/>
<line x1="291.20" y1="294.36" x2="291.20" y2="295.34" stroke="#000" stroke-width="1.7"/>
<line x1="287.70" y1="294.36" x2="294.70" y2="294.36" stroke="#000" stroke-width="1.7"/>
<rect x="306.85" y="313.20" width="15.10" height="59.80" fill="#000"/>
<line x1="314.40" y1="304.47" x2="314.40" y2="313.20" stroke="#000" stroke-width="1.7"/>
<line x1="310.90" y1="304.47" x2="317.90" y2="304.47" stroke="#000" stroke-width="1.7"/>
<rect x="330.05" y="309.78" width="15.10" height="63.22" fill="#000"/>
<line x1="337.60" y1="302.60" x2="337.60" y2="309.78" stroke="#000" stroke-width="1.7"/>
<line x1="334.10" y1="302.60" x2="341.10" y2="302.60" stroke="#000" stroke-width="1.7"/>
<rect x="353.25" y="322.18" width="15.10" height="50.82" fill="#000"/>
<line x1="360.80" y1="305.86" x2="360.80" y2="322.18" stroke="#000" stroke-width="1.7"/>
<line x1="357.30" y1="305.86" x2="364.30" y2="305.86" stroke="#000" stroke-width="1.7"/>
<rect x="376.45" y="343.39" width="15.10" height="29.61" fill="#000"/>
<line x1="384.00" y1="339.63" x2="384.00" y2="343.39" stroke="#000" stroke-width="1.7"/>
<line x1="380.50" y1="339.63" x2="387.50" y2="339.63" stroke="#000" stroke-width="1.7"/>
<line x1="314.10" y1="271.50" x2="386.80" y2="271.50" stroke="#000" stroke-width="1.8"/>
<text x="351.70" y="273.50" font-size="14" font-weight="normal" text-anchor="middle" fill="#1a1a1a" letter-spacing="1.2">**</text>
<line x1="290.20" y1="284.70" x2="361.30" y2="284.70" stroke="#000" stroke-width="1.8"/>
<text x="327.90" y="286.70" font-size="14" font-weight="normal" text-anchor="middle" fill="#1a1a1a" letter-spacing="1.2">*</text>
<line x1="335.50" y1="297.60" x2="381.90" y2="297.60" stroke="#000" stroke-width="1.8"/>
<text x="360.80" y="299.60" font-size="14" font-weight="normal" text-anchor="middle" fill="#1a1a1a" letter-spacing="1.2">**</text>
<text x="205.20" y="326.60" font-size="11" font-weight="bold" text-anchor="middle" fill="#1c1c1c" transform="rotate(-90 205.2 326.6)">rel. TMRE</text>
<text x="219.00" y="323.10" font-size="11" font-weight="bold" text-anchor="middle" fill="#1c1c1c" transform="rotate(-90 219.0 323.1)">fluorescence (%)</text>
<text x="214.00" y="395.70" font-size="11" font-weight="bold" text-anchor="middle" fill="#1c1c1c">VEN (3h)</text>
<text x="214.00" y="412.10" font-size="11" font-weight="bold" text-anchor="middle" fill="#1c1c1c">A133 (3h)</text>
<text x="214.00" y="428.20" font-size="11" font-weight="bold" text-anchor="middle" fill="#1c1c1c">DAS (48h)</text>
<text x="266.70" y="395.20" font-size="10.5" font-weight="bold" text-anchor="middle" fill="#1c1c1c">-</text>
<text x="289.20" y="395.20" font-size="10.5" font-weight="bold" text-anchor="middle" fill="#1c1c1c">+</text>
<text x="312.60" y="395.20" font-size="10.5" font-weight="bold" text-anchor="middle" fill="#1c1c1c">-</text>
<text x="335.70" y="395.20" font-size="10.5" font-weight="bold" text-anchor="middle" fill="#1c1c1c">-</text>
<text x="359.20" y="395.20" font-size="10.5" font-weight="bold" text-anchor="middle" fill="#1c1c1c">+</text>
<text x="381.70" y="395.20" font-size="10.5" font-weight="bold" text-anchor="middle" fill="#1c1c1c">-</text>
<text x="266.70" y="411.60" font-size="10.5" font-weight="bold" text-anchor="middle" fill="#1c1c1c">-</text>
<text x="289.20" y="411.60" font-size="10.5" font-weight="bold" text-anchor="middle" fill="#1c1c1c">-</text>
<text x="312.60" y="411.60" font-size="10.5" font-weight="bold" text-anchor="middle" fill="#1c1c1c">+</text>
<text x="335.70" y="411.60" font-size="10.5" font-weight="bold" text-anchor="middle" fill="#1c1c1c">-</text>
<text x="359.20" y="411.60" font-size="10.5" font-weight="bold" text-anchor="middle" fill="#1c1c1c">-</text>
<text x="381.70" y="411.60" font-size="10.5" font-weight="bold" text-anchor="middle" fill="#1c1c1c">+</text>
<text x="266.70" y="427.70" font-size="10.5" font-weight="bold" text-anchor="middle" fill="#1c1c1c">-</text>
<text x="289.20" y="427.70" font-size="10.5" font-weight="bold" text-anchor="middle" fill="#1c1c1c">-</text>
<text x="312.60" y="427.70" font-size="10.5" font-weight="bold" text-anchor="middle" fill="#1c1c1c">-</text>
<text x="335.70" y="427.70" font-size="10.5" font-weight="bold" text-anchor="middle" fill="#1c1c1c">+</text>
<text x="359.20" y="427.70" font-size="10.5" font-weight="bold" text-anchor="middle" fill="#1c1c1c">+</text>
<text x="381.70" y="427.70" font-size="10.5" font-weight="bold" text-anchor="middle" fill="#1c1c1c">+</text>
<rect x="455.10" y="323.60" width="15.90" height="15.93" fill="#ffaa60"/>
<rect x="470.70" y="323.60" width="15.90" height="15.93" fill="#ffd0a0"/>
<rect x="486.30" y="323.60" width="15.90" height="15.93" fill="#ff9a30"/>
<rect x="501.90" y="323.60" width="15.90" height="15.93" fill="#ff2a00"/>
<rect x="517.50" y="323.60" width="15.90" height="15.93" fill="#ff0000"/>
<rect x="533.10" y="323.60" width="15.90" height="15.93" fill="#ff8c20"/>
<rect x="548.70" y="323.60" width="15.90" height="15.93" fill="#ffc890"/>
<rect x="564.30" y="323.60" width="15.90" height="15.93" fill="#ff8400"/>
<rect x="579.90" y="323.60" width="15.90" height="15.93" fill="#ff2400"/>
<rect x="595.50" y="323.60" width="15.90" height="15.93" fill="#ff1000"/>
<rect x="455.10" y="339.23" width="15.90" height="15.93" fill="#ffdcb8"/>
<rect x="470.70" y="339.23" width="15.90" height="15.93" fill="#ff6000"/>
<rect x="486.30" y="339.23" width="15.90" height="15.93" fill="#ff8000"/>
<rect x="501.90" y="339.23" width="15.90" height="15.93" fill="#ff2000"/>
<rect x="517.50" y="339.23" width="15.90" height="15.93" fill="#ff1800"/>
<rect x="533.10" y="339.23" width="15.90" height="15.93" fill="#ff8418"/>
<rect x="548.70" y="339.23" width="15.90" height="15.93" fill="#ff3000"/>
<rect x="564.30" y="339.23" width="15.90" height="15.93" fill="#ff5800"/>
<rect x="579.90" y="339.23" width="15.90" height="15.93" fill="#ff1400"/>
<rect x="595.50" y="339.23" width="15.90" height="15.93" fill="#ff1800"/>
<rect x="455.10" y="354.86" width="15.90" height="15.93" fill="#ffbb80"/>
<rect x="470.70" y="354.86" width="15.90" height="15.93" fill="#ffc690"/>
<rect x="486.30" y="354.86" width="15.90" height="15.93" fill="#ffc08a"/>
<rect x="501.90" y="354.86" width="15.90" height="15.93" fill="#ff3a00"/>
<rect x="517.50" y="354.86" width="15.90" height="15.93" fill="#ff6a00"/>
<rect x="533.10" y="354.86" width="15.90" height="15.93" fill="#ffaa60"/>
<rect x="548.70" y="354.86" width="15.90" height="15.93" fill="#ff9a38"/>
<rect x="564.30" y="354.86" width="15.90" height="15.93" fill="#ffb070"/>
<rect x="579.90" y="354.86" width="15.90" height="15.93" fill="#ff2400"/>
<rect x="595.50" y="354.86" width="15.90" height="15.93" fill="#ff2000"/>
<rect x="455.10" y="370.49" width="15.90" height="15.93" fill="#ffb878"/>
<rect x="470.70" y="370.49" width="15.90" height="15.93" fill="#ff8a10"/>
<rect x="486.30" y="370.49" width="15.90" height="15.93" fill="#ff9a30"/>
<rect x="501.90" y="370.49" width="15.90" height="15.93" fill="#ffe2c6"/>
<rect x="517.50" y="370.49" width="15.90" height="15.93" fill="#ff5000"/>
<rect x="533.10" y="370.49" width="15.90" height="15.93" fill="#ff6c00"/>
<rect x="548.70" y="370.49" width="15.90" height="15.93" fill="#ff3000"/>
<rect x="564.30" y="370.49" width="15.90" height="15.93" fill="#ff2c00"/>
<rect x="579.90" y="370.49" width="15.90" height="15.93" fill="#ff5000"/>
<rect x="595.50" y="370.49" width="15.90" height="15.93" fill="#ff1000"/>
<rect x="455.10" y="386.12" width="15.90" height="15.93" fill="#ffe0c4"/>
<rect x="470.70" y="386.12" width="15.90" height="15.93" fill="#ff6400"/>
<rect x="486.30" y="386.12" width="15.90" height="15.93" fill="#ff5e00"/>
<rect x="501.90" y="386.12" width="15.90" height="15.93" fill="#ff6000"/>
<rect x="517.50" y="386.12" width="15.90" height="15.93" fill="#ff0000"/>
<rect x="533.10" y="386.12" width="15.90" height="15.93" fill="#ff1800"/>
<rect x="548.70" y="386.12" width="15.90" height="15.93" fill="#ff0000"/>
<rect x="564.30" y="386.12" width="15.90" height="15.93" fill="#ff0000"/>
<rect x="579.90" y="386.12" width="15.90" height="15.93" fill="#ff0000"/>
<rect x="595.50" y="386.12" width="15.90" height="15.93" fill="#ff0000"/>
<rect x="455.10" y="401.75" width="15.90" height="15.93" fill="#ffa040"/>
<rect x="470.70" y="401.75" width="15.90" height="15.93" fill="#ffa048"/>
<rect x="486.30" y="401.75" width="15.90" height="15.93" fill="#ff9a38"/>
<rect x="501.90" y="401.75" width="15.90" height="15.93" fill="#ff8a18"/>
<rect x="517.50" y="401.75" width="15.90" height="15.93" fill="#ff4400"/>
<rect x="533.10" y="401.75" width="15.90" height="15.93" fill="#ff6000"/>
<rect x="548.70" y="401.75" width="15.90" height="15.93" fill="#ff8c10"/>
<rect x="564.30" y="401.75" width="15.90" height="15.93" fill="#ff5400"/>
<rect x="579.90" y="401.75" width="15.90" height="15.93" fill="#ff4c00"/>
<rect x="595.50" y="401.75" width="15.90" height="15.93" fill="#ff5000"/>
<rect x="455.10" y="417.38" width="15.90" height="15.93" fill="#ffdcbc"/>
<rect x="470.70" y="417.38" width="15.90" height="15.93" fill="#ff7000"/>
<rect x="486.30" y="417.38" width="15.90" height="15.93" fill="#ff5400"/>
<rect x="501.90" y="417.38" width="15.90" height="15.93" fill="#ffae68"/>
<rect x="517.50" y="417.38" width="15.90" height="15.93" fill="#ff4600"/>
<rect x="533.10" y="417.38" width="15.90" height="15.93" fill="#ffd0a0"/>
<rect x="548.70" y="417.38" width="15.90" height="15.93" fill="#ff6400"/>
<rect x="564.30" y="417.38" width="15.90" height="15.93" fill="#ff5800"/>
<rect x="579.90" y="417.38" width="15.90" height="15.93" fill="#ff8410"/>
<rect x="595.50" y="417.38" width="15.90" height="15.93" fill="#ff1800"/>
<rect x="455.10" y="323.60" width="156.00" height="109.41" fill="none" stroke="#111" stroke-width="1.2"/>
<line x1="533.10" y1="323.60" x2="533.10" y2="433.01" stroke="#111" stroke-width="1.3"/>
<text x="466.80" y="315.00" font-size="11" font-weight="bold" text-anchor="start" fill="#1c1c1c" transform="rotate(-90 466.8 315.0)">VENDEX</text>
<text x="482.40" y="315.00" font-size="11" font-weight="bold" text-anchor="start" fill="#1c1c1c" transform="rotate(-90 482.4 315.0)">VENDAS</text>
<text x="498.00" y="315.00" font-size="11" font-weight="bold" text-anchor="start" fill="#1c1c1c" transform="rotate(-90 498.0 315.0)">VENDEXDAS</text>
<text x="513.60" y="315.00" font-size="11" font-weight="bold" text-anchor="start" fill="#1c1c1c" transform="rotate(-90 513.6 315.0)">VENINO</text>
<text x="529.20" y="315.00" font-size="11" font-weight="bold" text-anchor="start" fill="#1c1c1c" transform="rotate(-90 529.2 315.0)">VENDEXDASINO</text>
<text x="544.80" y="315.00" font-size="11" font-weight="bold" text-anchor="start" fill="#1c1c1c" transform="rotate(-90 544.8 315.0)">A133DEX</text>
<text x="560.40" y="315.00" font-size="11" font-weight="bold" text-anchor="start" fill="#1c1c1c" transform="rotate(-90 560.4 315.0)">A133DAS</text>
<text x="576.00" y="315.00" font-size="11" font-weight="bold" text-anchor="start" fill="#1c1c1c" transform="rotate(-90 576.0 315.0)">A133DEXDAS</text>
<text x="591.60" y="315.00" font-size="11" font-weight="bold" text-anchor="start" fill="#1c1c1c" transform="rotate(-90 591.6 315.0)">A133INO</text>
<text x="607.20" y="315.00" font-size="11" font-weight="bold" text-anchor="start" fill="#1c1c1c" transform="rotate(-90 607.1999999999999 315.0)">A133DEXDASINO</text>
<text x="448.00" y="334.52" font-size="11" font-weight="bold" text-anchor="end" fill="#1c1c1c">L4967</text>
<text x="448.00" y="350.15" font-size="11" font-weight="bold" text-anchor="end" fill="#1c1c1c">ALL1</text>
<text x="448.00" y="365.78" font-size="11" font-weight="bold" text-anchor="end" fill="#1c1c1c">ALL2</text>
<text x="448.00" y="381.41" font-size="11" font-weight="bold" text-anchor="end" fill="#1c1c1c">ALL3</text>
<text x="448.00" y="397.04" font-size="11" font-weight="bold" text-anchor="end" fill="#1c1c1c">ALL4</text>
<text x="448.00" y="412.67" font-size="11" font-weight="bold" text-anchor="end" fill="#1c1c1c">ALL5</text>
<text x="448.00" y="428.30" font-size="11" font-weight="bold" text-anchor="end" fill="#1c1c1c">ALL6</text>
<defs><linearGradient id="cb" x1="0" y1="1" x2="0" y2="0"><stop offset="0" stop-color="#ff0000"/><stop offset="0.333" stop-color="#ff5000"/><stop offset="0.5" stop-color="#ff7a00"/><stop offset="0.667" stop-color="#ff9a40"/><stop offset="0.85" stop-color="#ffc08a"/><stop offset="1" stop-color="#ffecd8"/></linearGradient></defs>
<rect x="636.4" y="323.6" width="15.1" height="108.6" fill="url(#cb)" stroke="#111" stroke-width="1.15"/>
<text x="660.60" y="327.50" font-size="10.5" font-weight="bold" text-anchor="start" fill="#1c1c1c">3</text>
<line x1="636.40" y1="359.80" x2="641.50" y2="359.80" stroke="#111" stroke-width="1.3"/>
<line x1="646.40" y1="359.80" x2="651.50" y2="359.80" stroke="#111" stroke-width="1.3"/>
<text x="660.60" y="363.70" font-size="10.5" font-weight="bold" text-anchor="start" fill="#1c1c1c">2</text>
<line x1="636.40" y1="396.00" x2="641.50" y2="396.00" stroke="#111" stroke-width="1.3"/>
<line x1="646.40" y1="396.00" x2="651.50" y2="396.00" stroke="#111" stroke-width="1.3"/>
<text x="660.60" y="399.90" font-size="10.5" font-weight="bold" text-anchor="start" fill="#1c1c1c">1</text>
<text x="660.60" y="436.10" font-size="10.5" font-weight="bold" text-anchor="start" fill="#1c1c1c">0</text>
<text x="681.40" y="379.80" font-size="12.2" font-weight="bold" text-anchor="middle" fill="#1c1c1c" transform="rotate(-90 681.4 379.8)">IC50 (log nM)</text>
</svg></body></html>
